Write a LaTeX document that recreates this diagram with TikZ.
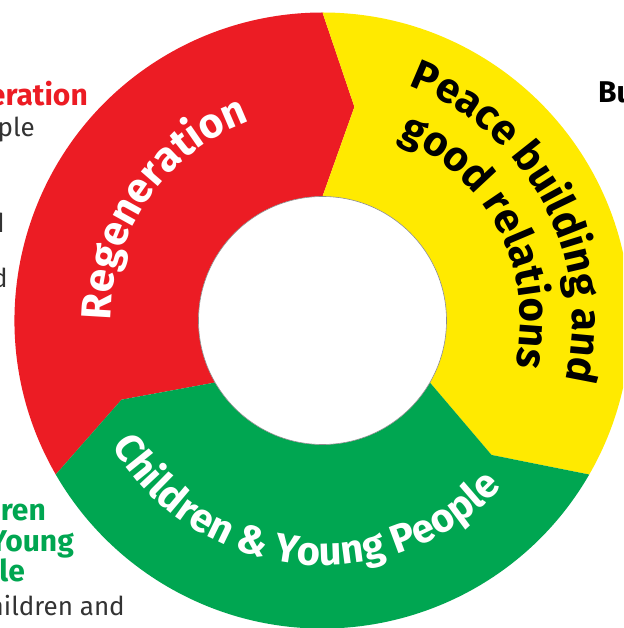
\documentclass[tikz,border=0pt]{standalone}
\usepackage{fontspec}
\setmainfont{Fira Sans}
\usepackage{tikz}
\usetikzlibrary{decorations.text, positioning}

\definecolor{regenred}{HTML}{EC1C24}
\definecolor{peaceyellow}{HTML}{FFEA00}
\definecolor{youthgreen}{HTML}{00A651}
\definecolor{bodygrey}{HTML}{333333}

\tikzstyle{segment} = [draw=none]
\tikzstyle{hubline} = [draw=black!45, line width=0.6pt, fill=white]
\tikzstyle{sidehead} = [inner sep=0pt, font=\fontsize{30}{32}\selectfont\bfseries]
\tikzstyle{sidebody} = [inner sep=0pt, text=bodygrey, font=\fontsize{26}{30}\selectfont]
\tikzstyle{ringlabel} = [
    decorate,
    decoration={text along path, text align=center}
]

\begin{document}
\begin{tikzpicture}[x=1pt, y=1pt]

\useasboundingbox (-322.5,-307.5) rectangle (300.5,320.5);
\clip (-322.5,-307.5) rectangle (300.5,320.5);
\fill[white] (-322.5,-307.5) rectangle (300.5,320.5);

\coordinate (hub) at (0,0);

\fill[segment, regenred] (210:308) arc[start angle=210, end angle=90, radius=308]
    -- (81.5:216) -- (90:124) arc[start angle=90, end angle=210, radius=124]
    -- (201.5:216) -- cycle;

\fill[segment, peaceyellow] (90:308) arc[start angle=90, end angle=-30, radius=308]
    -- (-38.5:216) -- (-30:124) arc[start angle=-30, end angle=90, radius=124]
    -- (81.5:216) -- cycle;

\fill[segment, youthgreen] (-30:308) arc[start angle=-30, end angle=-150, radius=308]
    -- (-158.5:216) -- (-150:124) arc[start angle=-150, end angle=-30, radius=124]
    -- (-38.5:216) -- cycle;

\draw[hubline] (hub) circle[radius=124];

\path[ringlabel, decoration={text color=white,
    text={|\fontsize{42}{42}\selectfont\bfseries|Regeneration}}]
    (200:212) arc[start angle=200, end angle=90, radius=212];

\path[ringlabel, decoration={text color=black,
    text={|\fontsize{42}{42}\selectfont\bfseries|Peace building and}}]
    (88:250) arc[start angle=88, end angle=-32, radius=250];

\path[ringlabel, decoration={text color=black,
    text={|\fontsize{42}{42}\selectfont\bfseries|good relations}}]
    (87:198) arc[start angle=87, end angle=-33, radius=198];

\path[ringlabel, decoration={text color=white,
    text={|\fontsize{40}{40}\selectfont\bfseries|Children {\&} Young People}}]
    (-156:245) arc[start angle=-156, end angle=-36, radius=245];

\node[sidehead, text=regenred, anchor=base east] (regenhead) at (-234.5,214.5) {eration};
\node[sidebody, anchor=base east] (regenline1) at (-287.5,183.8) {ple};
\node[sidebody, anchor=base east] (regenline2) at (-317.5,87.5) {d};
\node[sidebody, anchor=base east] (regenline3) at (-314.5,32.5) {d};

\node[sidehead, text=youthgreen, anchor=base east] (youthhead1) at (-276.5,-200.2) {ren};
\node[sidehead, text=youthgreen, anchor=base east] (youthhead2) at (-248.5,-231.2) {Young};
\node[sidehead, text=youthgreen, anchor=base east] (youthhead3) at (-297.5,-261.2) {le};
\node[sidebody, anchor=base east] (youthline1) at (-197.5,-294.5) {hildren and};

\node[sidehead, text=black, anchor=base west] (peacehead) at (275.5,217.5) {Bu};

\end{tikzpicture}
\end{document}
